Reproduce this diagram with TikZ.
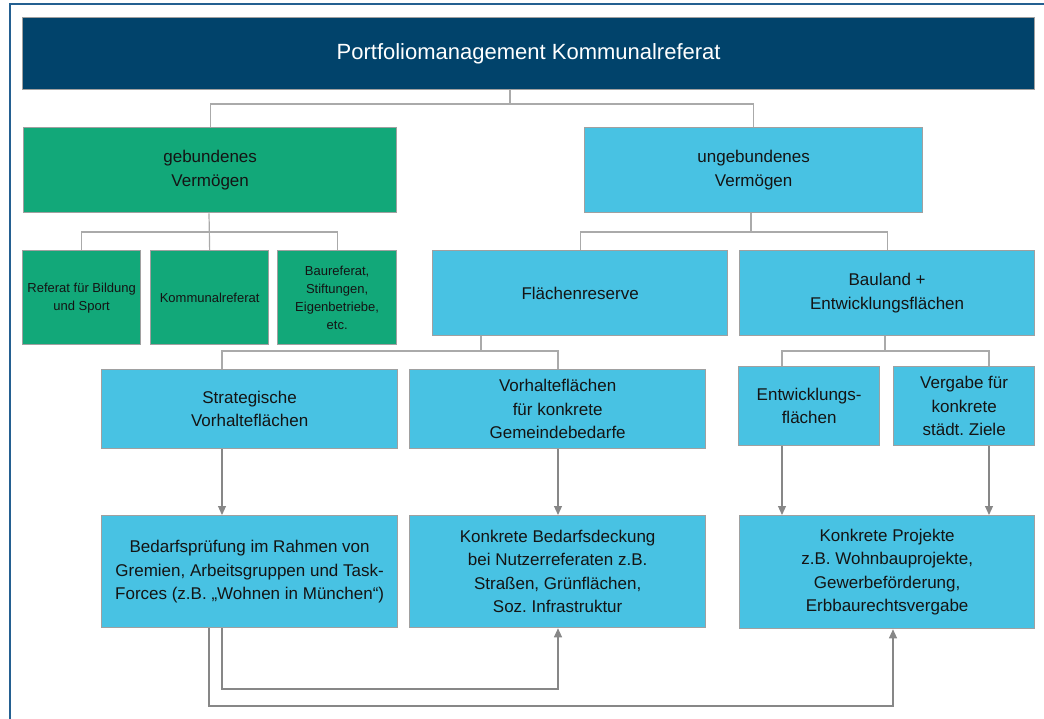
\documentclass[tikz,border=0pt]{standalone}
\usepackage{fontspec}
\setmainfont{Liberation Sans}
\usetikzlibrary{arrows.meta,calc}
\frenchspacing
\definecolor{navy}{RGB}{1,67,107}
\definecolor{grn}{RGB}{18,168,121}
\definecolor{lblue}{RGB}{72,194,227}
\definecolor{frameblue}{RGB}{36,96,145}
\definecolor{boxline}{RGB}{160,160,160}
\definecolor{conline}{RGB}{170,170,170}
\definecolor{arrline}{RGB}{135,135,135}
\definecolor{txt}{RGB}{20,20,20}
\tikzset{
  box/.style={draw=boxline, line width=1.3pt, anchor=north west, inner sep=2pt,
    align=center, text=txt, font=\fontsize{17}{23.5}\selectfont},
  gbox/.style={box, fill=grn},
  bbox/.style={box, fill=lblue},
  smallbox/.style={gbox, font=\fontsize{13}{18}\selectfont},
  conn/.style={draw=conline, line width=1.2pt},
  arr/.style={draw=arrline, line width=1.1pt, -{Triangle[width=8pt,length=9pt]}},
}
\begin{document}
\begin{tikzpicture}[x=1pt,y=-1pt]
\useasboundingbox (0,0) rectangle (1044,719);
% outer frame
\draw[frameblue, line width=2pt] (10,725) -- (10,4) -- (1050,4);
% title
\node[box, fill=navy, text=white, minimum width=1012, minimum height=72,
  font=\fontsize{22}{26}\selectfont] (title) at (22,17) {Portfoliomanagement Kommunalreferat};
% level 1
\node[gbox, minimum width=373, minimum height=85] (geb) at (23,127) {gebundenes\\Vermögen};
\node[bbox, minimum width=338, minimum height=85] (ungeb) at (584,127) {ungebundenes\\Vermögen};
% green children
\node[smallbox, minimum width=118, minimum height=94] (rbs) at (22,250) {Referat für Bildung\\und Sport};
\node[smallbox, minimum width=118, minimum height=94] (kom) at (150,250) {Kommunalreferat};
\node[smallbox, minimum width=119, minimum height=94] (bau) at (277,250) {Baureferat,\\Stiftungen,\\Eigenbetriebe,\\etc.};
% blue children
\node[bbox, minimum width=295, minimum height=85] (fl) at (432,250) {Flächenreserve};
\node[bbox, minimum width=295, minimum height=85] (bl) at (739,250) {Bauland +\\Entwicklungsflächen};
% level 3
\node[bbox, minimum width=296, minimum height=79] (strat) at (101,369) {Strategische\\Vorhalteflächen};
\node[bbox, minimum width=296, minimum height=79] (vorh) at (409,369) {Vorhalteflächen\\für konkrete\\Gemeindebedarfe};
\node[bbox, minimum width=141, minimum height=79] (entw) at (738,366) {Entwicklungs-\\flächen};
\node[bbox, minimum width=141, minimum height=79] (verg) at (893,366) {Vergabe für\\konkrete\\städt. Ziele};
% bottom
\node[bbox, minimum width=296, minimum height=112] (bedp) at (101,515) {Bedarfsprüfung im Rahmen von\\Gremien, Arbeitsgruppen und Task-\\Forces (z.B. „Wohnen in München“)};
\node[bbox, minimum width=296, minimum height=112] (bedd) at (409,515) {Konkrete Bedarfsdeckung\\bei Nutzerreferaten z.B.\\Straßen, Grünflächen,\\Soz. Infrastruktur};
\node[bbox, minimum width=295, minimum height=113] (proj) at (739,515) {Konkrete Projekte\\z.B. Wohnbauprojekte,\\Gewerbeförderung,\\Erbbaurechtsvergabe};
% junctions
\coordinate (j1) at (510,104);
\coordinate (j2) at (209,232);
\coordinate (j3) at (751,232);
\coordinate (j4) at (481,351);
\coordinate (j5) at (885,351);
\coordinate (sx) at (222,0);
\coordinate (ox) at (209,0);
\coordinate (vx) at (558,0);
\coordinate (ex) at (782,0);
\coordinate (gx) at (989,0);
\coordinate (px) at (893,0);
\coordinate (yin) at (0,689);
\coordinate (yout) at (0,706);
% connectors
\draw[conn] (j1 |- title.south) -- (j1);
\draw[conn] (geb.north) |- (j1) -| (ungeb.north);
\draw[conn] (j2 |- geb.south) -- (kom.north);
\draw[conn] (rbs.north) |- (j2) -| (bau.north);
\draw[conn] (j3 |- ungeb.south) -- (j3);
\draw[conn] (fl.north) |- (j3) -| (bl.north);
\draw[conn] (j4 |- fl.south) -- (j4);
\draw[conn] (sx |- strat.north) |- (j4) -| (vx |- vorh.north);
\draw[conn] (j5 |- bl.south) -- (j5);
\draw[conn] (ex |- entw.north) |- (j5) -| (gx |- verg.north);
% arrows
\draw[arr] (sx |- strat.south) -- (sx |- bedp.north);
\draw[arr] (vx |- vorh.south) -- (vx |- bedd.north);
\draw[arr] (ex |- entw.south) -- (ex |- proj.north);
\draw[arr] (gx |- verg.south) -- (gx |- proj.north);
\draw[arr] (sx |- bedp.south) -- (sx |- yin) -- (vx |- yin) -- (vx |- bedd.south);
\draw[arr] (ox |- bedp.south) -- (ox |- yout) -- (px |- yout) -- (px |- proj.south);
\end{tikzpicture}
\end{document}
